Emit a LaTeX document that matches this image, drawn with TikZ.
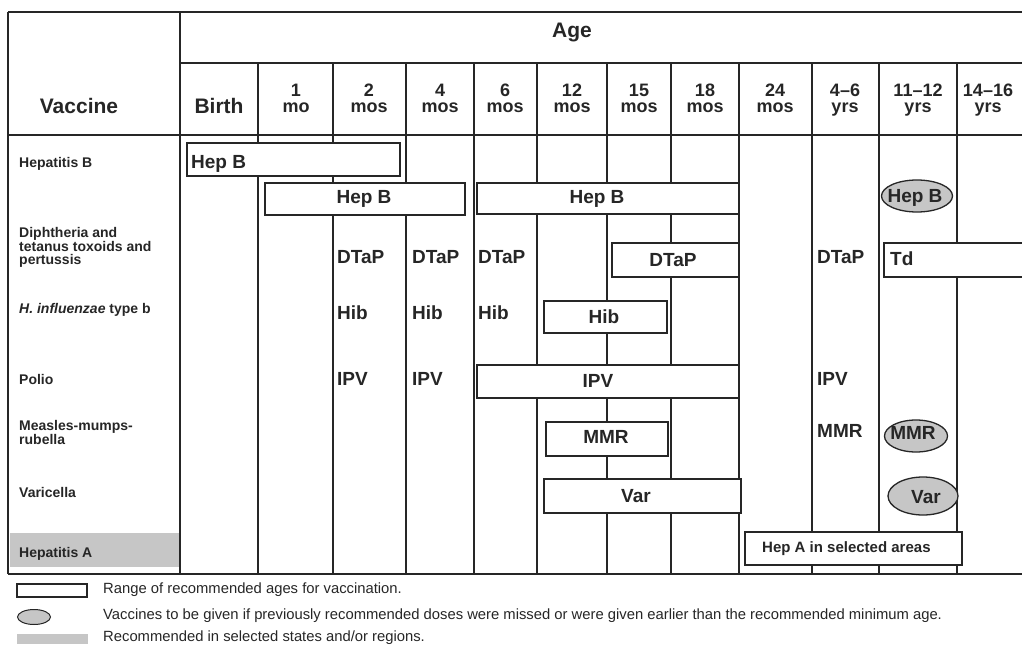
\documentclass[tikz,border=0pt]{standalone}
\usepackage{fontspec}
\setmainfont{Liberation Sans}
\usepackage{xcolor}
\usepackage{tikz}
\usetikzlibrary{shapes.geometric}

\definecolor{ink}{HTML}{262626}
\definecolor{dotgrey}{HTML}{C6C6C6}

\begin{document}
\begin{tikzpicture}[x=1pt,y=-1pt,
    rule/.style={draw=ink,line width=1.8pt},
    rangebox/.style={draw=ink,line width=2.6pt,fill=white},
    catchup/.style={ellipse,draw=ink,line width=1.3pt,fill=dotgrey,inner sep=0pt},
    hdr/.style={font=\fontsize{21}{24}\selectfont\bfseries,text=ink,inner sep=0pt,anchor=base},
    colhdr/.style={font=\fontsize{18}{20}\selectfont\bfseries,text=ink,inner sep=0pt,anchor=base},
    cell/.style={font=\fontsize{19}{21}\selectfont\bfseries,text=ink,inner sep=0pt,anchor=base},
    vacc/.style={font=\fontsize{14}{13}\selectfont\bfseries,text=ink,inner sep=0pt,align=left,anchor=base west},
    note/.style={font=\fontsize{14.8}{16}\selectfont,text=ink,inner sep=0pt,anchor=base west}]
			\useasboundingbox (0,0) rectangle (1022,645);
			% Ô tô xám (Hepatitis A)
			\fill[dotgrey] (10,533) rectangle (180,567);
			% Khung bảng
			\draw[rule] (8,12) -- (1022,12);
			\draw[rule] (180,63) -- (1022,63);
			\draw[rule] (8,135) -- (1022,135);
			\draw[rule] (8,574) -- (1022,574);
			\draw[rule] (8,12) -- (8,574);
			\draw[rule] (180,12) -- (180,574);
			\foreach \x in {258,333,406,474,537,607,671,739,812,879,957}
			\draw[rule] (\x,63) -- (\x,574);
			% Tiêu đề
			\node[hdr] (age) at (572,37) {Age};
			\node[hdr] (vaccine) at (79,113) {Vaccine};
			\node[hdr] (birth) at (219,113) {Birth};
			\foreach \x/\a/\b [count=\i] in {296/1/mo,369/2/mos,440/4/mos,505/6/mos,572/12/mos,639/15/mos,705/18/mos,775/24/mos,845/4--6/yrs,918/11--12/yrs,988/14--16/yrs}
			{
			\node[colhdr] (num\i) at (\x,96) {\a};
			\node[colhdr] (unit\i) at (\x,112) {\b};
			}
			% Tên vắc xin
			\node[vacc] (vhepb) at (19,167) {Hepatitis B};
			\node[vacc,anchor=north west] (vdtp) at (19,227) {Diphtheria and\\tetanus toxoids and\\pertussis};
			\node[vacc] (vhib) at (19,313) {\textit{H. influenzae} type b};
			\node[vacc] (vpolio) at (19,384) {Polio};
			\node[vacc,anchor=north west] (vmmr) at (19,420) {Measles-mumps-\\rubella};
			\node[vacc] (vvar) at (19,497) {Varicella};
			\node[vacc] (vhepa) at (19,557) {Hepatitis A};
			% Khoảng tuổi khuyến nghị
			\foreach \xa/\ya/\xb/\yb in {187/143/400/176,265/183/465/215,477/183/739/214,612/243/739/277,544/301/667/333,477/365/739/398,546/422/668/456,544/479/741/513,745/532/962/565}
			\draw[rangebox] (\xa,\ya) rectangle (\xb,\yb);
			\draw[rangebox] (1030,243) -| (884,277) -- (1030,277);
			\node[cell,anchor=base west] (hepb1) at (191,168) {Hep B};
			\node[cell] (hepb2) at (364,203) {Hep B};
			\node[cell] (hepb3) at (597,203) {Hep B};
			\node[cell] (dtapbox) at (673,266) {DTaP};
			\node[cell,anchor=base west] (td) at (890,265) {Td};
			\node[cell] (hibbox) at (604,323) {Hib};
			\node[cell] (ipvbox) at (598,387) {IPV};
			\node[cell] (mmrbox) at (606,443) {MMR};
			\node[cell] (varbox) at (636,502) {Var};
			\node[cell,anchor=base west,font=\fontsize{15}{17}\selectfont\bfseries] (hepa) at (762,552) {Hep A in selected areas};
			% Liều đơn lẻ
			\foreach \x [count=\i] in {337,412,478,817}
			\node[cell,anchor=base west] (dtap\i) at (\x,263) {DTaP};
			\foreach \x [count=\i] in {337,412,478}
			\node[cell,anchor=base west] (hib\i) at (\x,319) {Hib};
			\foreach \x [count=\i] in {337,412,817}
			\node[cell,anchor=base west] (ipv\i) at (\x,385) {IPV};
			\node[cell,anchor=base west] (mmr2) at (817,437) {MMR};
			% Liều bù (hình bầu dục)
			\node[catchup,minimum width=71pt,minimum height=32pt] (ovhepb) at (917,196) {};
			\node[cell] (hepbx) at (915,202) {Hep B};
			\node[catchup,minimum width=63pt,minimum height=32pt] (ovmmr) at (916,436) {};
			\node[cell] (mmrx) at (913,439) {MMR};
			\node[catchup,minimum width=70pt,minimum height=38pt] (ovvar) at (923,496) {};
			\node[cell] (varx) at (926,503) {Var};
			% Chú thích
			\draw[ink,line width=1.2pt] (17,584) rectangle (87,597);
			\node[catchup,line width=1pt,minimum width=33pt,minimum height=15pt] (keyoval) at (34,617) {};
			\fill[dotgrey] (17,634) rectangle (88,644);
			\node[note] (key1) at (103,593) {Range of recommended ages for vaccination.};
			\node[note] (key2) at (103,619) {Vaccines to be given if previously recommended doses were missed or were given earlier than the recommended minimum age.};
			\node[note] (key3) at (103,641) {Recommended in selected states and/or regions.};
		\end{tikzpicture}
\end{document}
